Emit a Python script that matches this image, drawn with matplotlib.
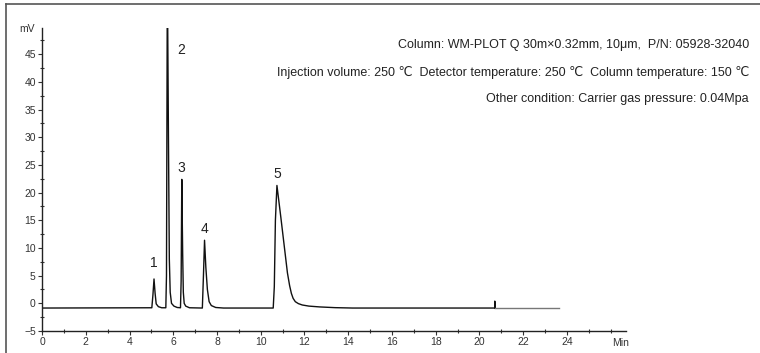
import matplotlib.pyplot as plt
from matplotlib.lines import Line2D
from matplotlib.ticker import MultipleLocator

# traced chromatogram (min, mV)
time = [0.0, 5.02, 5.07, 5.12, 5.17, 5.22, 5.32, 5.47, 5.66,
        5.69, 5.73, 5.78, 5.82, 5.86, 5.92, 6.03, 6.18, 6.33,
        6.36, 6.39, 6.43, 6.46, 6.5, 6.57, 6.74, 7.33,
        7.38, 7.43, 7.49, 7.56, 7.64, 7.74, 7.94, 8.3, 10.57,
        10.62, 10.67, 10.74, 10.92, 11.1, 11.22, 11.32, 11.4, 11.48,
        11.58, 11.72, 11.9, 12.2, 12.7, 13.4, 14.2, 20.7]
signal = [-0.85, -0.8, 1.5, 4.4, 1.8, -0.1, -0.6, -0.8, -0.8,
          5.0, 60.0, 30.0, 8.0, 2.0, 0.0, -0.5, -0.75, -0.8,
          4.0, 22.4, 9.0, 2.0, 0.0, -0.5, -0.8, -0.85,
          5.0, 11.4, 6.5, 2.5, 0.3, -0.4, -0.75, -0.85, -0.85,
          3.0, 15.0, 21.3, 15.5, 9.5, 5.5, 3.2, 1.8, 0.9,
          0.3, -0.05, -0.3, -0.5, -0.65, -0.78, -0.85, -0.85]
spike_time = [20.7, 20.7, 20.71]
spike_signal = [-0.85, 0.4, -0.9]
tail_time = [20.71, 23.65]
tail_signal = [-0.9, -0.9]

peak_ids = ['1', '2', '3', '4', '5']
peak_x = [5.1, 6.35, 6.38, 7.45, 10.78]
peak_y = [7.2, 45.8, 24.4, 13.4, 23.3]

info_lines = [
    'Column: WM-PLOT Q 30m\u00d70.32mm, 10\u03bcm,  P/N: 05928-32040',
    'Injection volume: 250 \u2103  Detector temperature: 250 \u2103  Column temperature: 150 \u2103',
    'Other condition: Carrier gas pressure: 0.04Mpa',
]

fonts = ['Liberation Sans', 'DejaVu Sans']
plt.rcParams['font.family'] = fonts

fig = plt.figure(figsize=(7.6, 3.53), dpi=100)
ax = fig.add_axes([0.0553, 0.0623, 0.7684, 0.8584])

ax.plot(time, signal, color='#111111', lw=1.0, clip_on=True)
ax.plot(spike_time, spike_signal, color='#111111', lw=1.0)
ax.plot(tail_time, tail_signal, color='#777777', lw=1.0)

for pid, px, py in zip(peak_ids, peak_x, peak_y):
    ax.text(px, py, pid, fontsize=10, ha='center', va='center', color='#222222')

ax.set_xlim(0, 26.7)
ax.set_ylim(-5, 49.75)
ax.xaxis.set_major_locator(MultipleLocator(2))
ax.xaxis.set_minor_locator(MultipleLocator(1))
ax.yaxis.set_major_locator(MultipleLocator(5))
ax.yaxis.set_minor_locator(MultipleLocator(2.5))
ax.set_xticks(range(0, 25, 2))
ax.set_yticks(range(-5, 46, 5))
ax.tick_params(which='major', length=3, width=0.8, labelsize=7.5, colors='#333333', pad=1.5)
ax.tick_params(which='minor', length=2.5, width=0.8, direction='inout', colors='#333333')

for side in ['top', 'right']:
    ax.spines[side].set_visible(False)
for side in ['left', 'bottom']:
    ax.spines[side].set_color('#222222')
    ax.spines[side].set_linewidth(1.0)

fig.text(0.036, 0.918, 'mV', fontsize=7.5, ha='center', va='center', color='#333333')
fig.text(0.816, 0.028, 'Min', fontsize=7.5, ha='center', va='center', color='#333333')

ys = [0.8725, 0.796, 0.7195]
for line, y in zip(info_lines, ys):
    fig.text(0.9855, y, line, fontsize=9, ha='right', va='center', color='#222222')

# partial border of the original figure
fig.add_artist(Line2D([6 / 760, 1.0], [1 - 4 / 353, 1 - 4 / 353], color='#555555', lw=1.2))
fig.add_artist(Line2D([6 / 760, 6 / 760], [0.0, 1 - 4 / 353], color='#555555', lw=1.2))

fig.savefig('out.png', dpi=100)
